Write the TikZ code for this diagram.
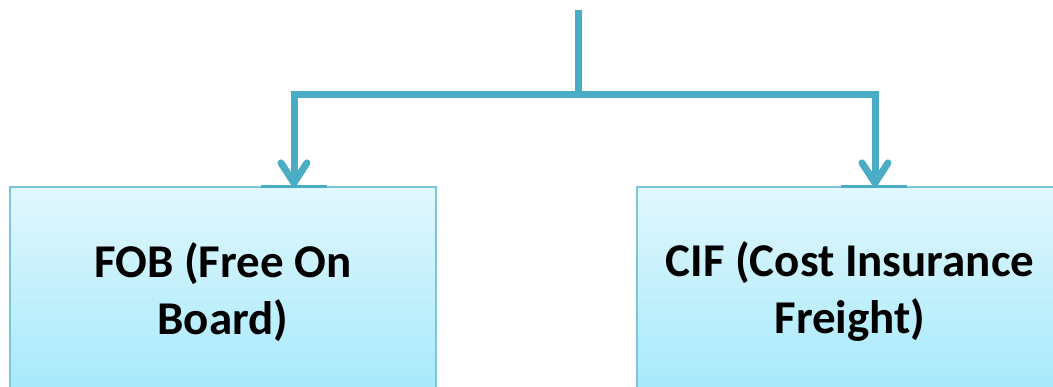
\documentclass[tikz,border=0pt]{standalone}
\usepackage{fontspec}
\setmainfont{Carlito}
\usetikzlibrary{arrows.meta}
\definecolor{conn}{HTML}{4BACC6}
\definecolor{boxtop}{HTML}{E1F7FD}
\definecolor{boxbot}{HTML}{A5E9FB}
\definecolor{boxline}{HTML}{7CC5DB}
\begin{document}
\begin{tikzpicture}[x=1pt,y=-1pt,
  termbox/.style={draw=boxline, line width=1.2pt, top color=boxtop, bottom color=boxbot,
    minimum width=426pt, minimum height=210pt, align=center, inner sep=0pt,
    font=\fontsize{47}{57}\selectfont\bfseries},
  connector/.style={draw=conn, line width=7pt, line join=miter},
  arrowed/.style={connector, -{Straight Barb[length=20pt, width=26pt, round]}},
  mark line/.style={draw=conn, line width=3pt}]
\useasboundingbox (0,0) rectangle (1053,387);
\clip (0,0) rectangle (1053,387);
\node[termbox] (fob) at (223,292) {FOB (Free On\\Board)};
\node[termbox] (cif) at (850,292) {CIF (Cost Insurance\\Freight)};
\coordinate (top) at (578,10);
\coordinate (join) at (578,95);
\draw[mark line] ([xshift=38pt]fob.north) -- ([xshift=104pt]fob.north);
\draw[mark line] ([xshift=-9pt]cif.north) -- ([xshift=57pt]cif.north);
\draw[connector] (top) -- (join);
\draw[arrowed] (join) -| ([xshift=71pt]fob.north);
\draw[arrowed] (join) -| ([xshift=25pt]cif.north);
\end{tikzpicture}
\end{document}
